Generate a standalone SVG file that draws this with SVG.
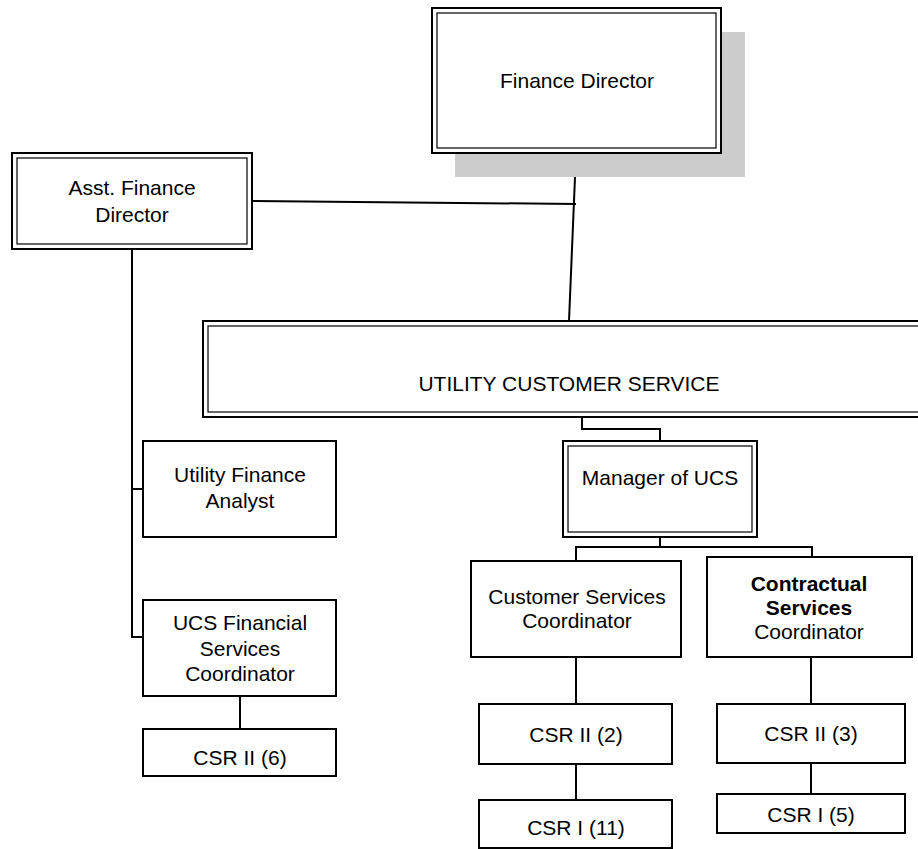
<svg xmlns="http://www.w3.org/2000/svg" width="918" height="849" viewBox="0 0 918 849">
<style>
.o{fill:#fff;stroke:#000;stroke-width:2}
.i{fill:none;stroke:#000;stroke-width:1.2}
.b{fill:#fff;stroke:#000;stroke-width:2}
.c{fill:none;stroke:#000;stroke-width:2}
text{font-family:"Liberation Sans",Arial,sans-serif;font-size:21px;fill:#000;text-anchor:middle}
.bold{font-weight:bold}
</style>
<rect width="918" height="849" fill="#fff"/>
<g id="connectors">
<path class="c" d="M576,153 L569,321"/>
<path class="c" d="M252,201 L576,204"/>
<path class="c" d="M132,249 V637 H143 M132,489 H143"/>
<path class="c" d="M240,696 V729"/>
<path class="c" d="M582,417 V429 H660 V441"/>
<path class="c" d="M660,537 V547 M576,561 V547 H812 V557"/>
<path class="c" d="M576,657 V704 M576,764 V800"/>
<path class="c" d="M811,657 V704 M811,763 V794"/>
</g>
<g id="finance-director">
<rect x="455" y="32" width="290" height="145" fill="#cccccc"/>
<rect class="o" x="432" y="8" width="289" height="145"/>
<rect class="i" x="437" y="13" width="279" height="135"/>
<text x="577" y="88">Finance Director</text>
</g>
<g id="asst-finance-director">
<rect class="o" x="12" y="153" width="240" height="96"/>
<rect class="i" x="17" y="158" width="230" height="86"/>
<text x="132" y="195">Asst. Finance</text>
<text x="132" y="222">Director</text>
</g>
<g id="utility-customer-service">
<rect class="o" x="203" y="321" width="730" height="96"/>
<rect class="i" x="208" y="326" width="720" height="86"/>
<text x="569" y="391">UTILITY CUSTOMER SERVICE</text>
</g>
<g id="manager-ucs">
<rect class="o" x="563" y="441" width="194" height="96"/>
<rect class="i" x="568" y="446" width="184" height="86"/>
<text x="660" y="485">Manager of UCS</text>
</g>
<g id="utility-finance-analyst">
<rect class="b" x="143" y="441" width="193" height="96"/>
<text x="240" y="482">Utility Finance</text>
<text x="240" y="508">Analyst</text>
</g>
<g id="ucs-financial-coordinator">
<rect class="b" x="143" y="600" width="193" height="96"/>
<text x="240" y="630">UCS Financial</text>
<text x="240" y="656">Services</text>
<text x="240" y="681">Coordinator</text>
</g>
<g id="csr2-6">
<rect class="b" x="143" y="729" width="193" height="47"/>
<text x="240" y="765">CSR II (6)</text>
</g>
<g id="customer-services-coordinator">
<rect class="b" x="471" y="561" width="210" height="96"/>
<text x="577" y="604">Customer Services</text>
<text x="577" y="628">Coordinator</text>
</g>
<g id="contractual-services-coordinator">
<rect class="b" x="707" y="557" width="205" height="100"/>
<text x="809" y="591" class="bold">Contractual</text>
<text x="809" y="615" class="bold">Services</text>
<text x="809" y="639">Coordinator</text>
</g>
<g id="csr2-2">
<rect class="b" x="479" y="704" width="193" height="60"/>
<text x="576" y="742">CSR II (2)</text>
</g>
<g id="csr1-11">
<rect class="b" x="479" y="800" width="193" height="48"/>
<text x="576" y="835">CSR I (11)</text>
</g>
<g id="csr2-3">
<rect class="b" x="717" y="704" width="188" height="59"/>
<text x="811" y="741">CSR II (3)</text>
</g>
<g id="csr1-5">
<rect class="b" x="717" y="794" width="188" height="39"/>
<text x="811" y="822">CSR I (5)</text>
</g>
</svg>
